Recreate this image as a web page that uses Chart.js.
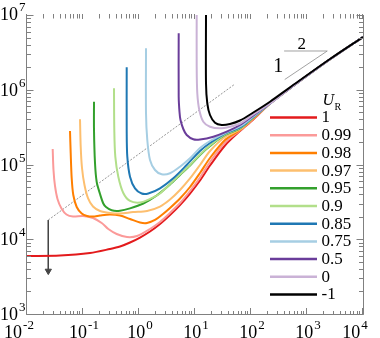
<!DOCTYPE html>
<html><head><meta charset="utf-8">
<script src="https://cdn.jsdelivr.net/npm/chart.js@4/dist/chart.umd.min.js"></script>
<style>html,body{margin:0;padding:0;background:#fff}</style>
</head><body>
<canvas id="c" width="380" height="338"></canvas>
<script>
// ---- data ----
const uRLabels = ['1','0.99','0.98','0.97','0.95','0.9','0.85','0.75','0.5','0','-1'];
const curveColors = ['#e31a1c','#fb9a99','#ff7f00','#fdbf6f','#33a02c','#b2df8a','#1f78b4','#a6cee3','#6a3d9a','#cab2d6','#000000'];

const x_1 = [0.01,0.0388,0.1334,0.303,0.458,0.691,1.042,1.572,2.371,3.578,5.397,8.142,12.28,18.53,34.34,63.62,109.9];
const y_1 = [5970,6060,6550,7410,8000,9050,10550,12700,16000,21100,28700,40900,61100,96900,179600,280700,400000];

const x_099 = [0.02876,0.02972,0.03162,0.03504,0.04131,0.05074,0.06628,0.1,0.1509,0.2158,0.283,0.3997,0.6105,0.921,1.572,2.371,3.578,5.397,8.142,12.28,18.53,34.34,63.62,109.9];
const y_099 = [1.612e5,8.44e4,5.16e4,3.46e4,2.58e4,2.14e4,2.015e4,2.05e4,1.924e4,1.65e4,1.372e4,1.176e4,1.072e4,1.105e4,1.372e4,1.701e4,2.25e4,3.05e4,4.42e4,6.70e4,1.08e5,1.97e5,2.85e5,4.062e5];

const x_098 = [0.0586,0.0603,0.0628,0.0671,0.0772,0.0948,0.1179,0.1509,0.2014,0.303,0.458,0.691,1.042,1.39,1.931,2.683,3.578,5.397,8.142,12.28,18.53,34.34,63.62,109.9];
const y_098 = [2.807e5,1.425e5,6.60e4,3.91e4,2.70e4,2.21e4,2.05e4,2.015e4,2.08e4,2.14e4,2.08e4,1.866e4,1.675e4,1.65e4,1.81e4,2.18e4,2.62e4,3.51e4,5.0e4,7.70e4,1.222e5,2.127e5,2.894e5,4.125e5];

const x_097 = [0.0884,0.091,0.096,0.1063,0.1228,0.1509,0.2014,0.303,0.458,0.7813,1.39,2.371,3.578,5.397,8.142,12.28,18.53,34.34,63.62,109.9];
const y_097 = [4.02e5,1.73e5,8.98e4,5.32e4,3.56e4,2.74e4,2.39e4,2.25e4,2.21e4,2.31e4,2.39e4,2.74e4,3.40e4,4.56e4,6.50e4,9.85e4,1.516e5,2.333e5,2.939e5,4.19e5];

const x_095 = [0.1572,0.1572,0.1638,0.1757,0.2014,0.2304,0.2575,0.3255,0.458,0.691,1.193,2.071,3.578,5.397,8.142,12.28,18.53,34.34,63.62,109.9];
const y_095 = [6.92e5,2.894e5,1.047e5,5.83e4,4.03e4,3.01e4,2.70e4,2.44e4,2.41e4,2.59e4,3.01e4,3.85e4,5.40e4,7.24e4,9.69e4,1.34e5,1.768e5,2.481e5,3.031e5,4.24e5];

const x_09 = [0.3578,0.3622,0.3774,0.4271,0.5243,0.691,1.042,1.572,2.371,3.578,5.397,8.142,12.28,18.53,34.34,63.62,109.9];
const y_09 = [1.046e6,2.894e5,1.272e5,6.87e4,4.16e4,3.25e4,3.10e4,3.46e4,4.09e4,5.48e4,7.35e4,9.85e4,1.36e5,1.796e5,2.519e5,3.078e5,4.28e5];

const x_085 = [0.6031,0.6031,0.6182,0.691,0.8483,1.117,1.466,2.371,4.098,7.108,12.28,18.53,34.34,63.62,109.9];
const y_085 = [1.997e6,2.894e5,1.272e5,6.87e4,4.80e4,4.09e4,4.09e4,4.80e4,6.54e4,9.85e4,1.516e5,1.939e5,2.598e5,3.126e5,4.32e5];

const x_075 = [1.334,1.334,1.406,1.572,1.931,2.543,3.578,5.397,8.142,12.28,18.53,34.34,63.62,109.9];
const y_075 = [3.585e6,4.84e5,2.127e5,1.149e5,8.44e4,7.39e4,7.63e4,9.35e4,1.21e5,1.662e5,2.063e5,2.639e5,3.224e5,4.387e5];

const x_05 = [5.116,5.116,5.287,5.51,6.182,7.108,9.325,12.28,21.23,36.83,63.62,109.9];
const y_05 = [5.69e6,8.07e5,5.04e5,3.94e5,2.985e5,2.481e5,2.174e5,2.16e5,2.354e5,2.747e5,3.376e5,4.525e5];

const x_0 = [10.72,10.72,10.99,11.93,14.07,18.53,27.95,42.17,63.62,109.9];
const y_0 = [1e7,2.034e6,8.965e5,5.36e5,3.738e5,3.204e5,3.05e5,3.204e5,3.536e5,4.67e5];

const x_m1 = [15.72,15.72,16.58,18.53,22.76,29.99,42.17,63.62,109.9,218.4,497.1,2575,10000];
const y_m1 = [1e7,1.22e6,6.59e5,4.595e5,3.624e5,3.376e5,3.482e5,3.878e5,4.963e5,6.92e5,1.078e6,2.579e6,5.08e6];

// common large-x branch (slope 1/2) shared by all U_R except -1
const tailX = [218.4,497.1,2575,10000];
const tailY = [6.55e5,1.049e6,2.555e6,5.08e6];

const xTickExps = [-2,-1,0,1,2,3,4];
const yTickExps = [3,4,5,6,7];

// guide line + arrow, slope triangle
const guideX = [0.024,51.8];
const guideY = [1.81e4,1.194e6];
const arrowX = [0.024,0.024];
const arrowY = [1.81e4,3760];
const slopeHypX = [400,2300];
const slopeHypY = [1.37e6,3.3e6];
const slopeTopX = [390,2300];
const slopeTopY = [3.3e6,3.3e6];
const slopeTextX = [307,803];
const slopeTextY = [2.03e6,3.97e6];
const slopeText = ['1','2'];

// ---- build datasets ----
const curveXs = [x_1,x_099,x_098,x_097,x_095,x_09,x_085,x_075,x_05,x_0,x_m1];
const curveYs = [y_1,y_099,y_098,y_097,y_095,y_09,y_085,y_075,y_05,y_0,y_m1];
const pts = (xs, ys) => xs.map((v, i) => ({x: v, y: ys[i]}));
const datasets = curveXs.map((xs, i) => {
  let X = xs, Y = curveYs[i];
  if (i < curveXs.length - 1) { X = xs.concat(tailX); Y = Y.concat(tailY); }
  return {
    label: uRLabels[i], data: pts(X, Y), isCurve: true,
    borderColor: curveColors[i], backgroundColor: curveColors[i],
    borderWidth: 2, pointRadius: 0, showLine: true, tension: 0.3,
    order: curveXs.length - 1 - i
  };
});
datasets.push({label: 'guide', data: pts(guideX, guideY), borderColor: '#7a7a7a', borderWidth: 0.8,
  borderDash: [2, 1.5], pointRadius: 0, showLine: true, tension: 0, order: 30});
datasets.push({label: 'arrow', data: pts(arrowX, arrowY), borderColor: '#444', backgroundColor: '#444',
  borderWidth: 1, pointRadius: [0, 3.6], pointStyle: 'triangle', rotation: 180, showLine: true, tension: 0, order: 30});
datasets.push({label: 'slope1', data: pts(slopeHypX, slopeHypY), borderColor: '#8a8a8a', borderWidth: 0.8,
  pointRadius: 0, showLine: true, tension: 0, order: 30});
datasets.push({label: 'slope2', data: pts(slopeTopX, slopeTopY), borderColor: '#8a8a8a', borderWidth: 0.8,
  pointRadius: 0, showLine: true, tension: 0, order: 30});

const SERIF = '"Liberation Serif", "Times New Roman", serif';
const AXC = '#808080';

function drawPow(ctx, exp, cx, baseY, align) {
  const e = String(exp);
  ctx.font = '18px ' + SERIF; const wb = ctx.measureText('10').width;
  ctx.font = '13px ' + SERIF; const we = ctx.measureText(e).width;
  const w = wb + 1 + we;
  let left = align === 'right' ? cx - w : cx - w / 2;
  ctx.fillStyle = '#000'; ctx.textAlign = 'left'; ctx.textBaseline = 'alphabetic';
  ctx.font = '18px ' + SERIF; ctx.fillText('10', left, baseY);
  ctx.font = '13px ' + SERIF; ctx.fillText(e, left + wb + 1, baseY - 9);
}

const framePlugin = {
  id: 'frame',
  afterDatasetsDraw(chart) {
    const {ctx, chartArea: a, scales} = chart;
    const sx = scales.x, sy = scales.y;
    const L = a.left - 0.5, R = a.right + 0.5, B = a.bottom + 0.5, T = a.top;
    ctx.save();
    ctx.strokeStyle = AXC; ctx.lineWidth = 1;
    ctx.beginPath();
    ctx.moveTo(L, T); ctx.lineTo(L, B); ctx.lineTo(R, B); ctx.lineTo(R, T);
    ctx.stroke();
    ctx.beginPath();
    // x ticks (bottom and top)
    for (let k = 0; k < xTickExps.length; k++) {
      const e = xTickExps[k];
      for (let m = 1; m <= 9; m++) {
        if (m > 1 && k === xTickExps.length - 1) break;
        const px = Math.round(sx.getPixelForValue(m * Math.pow(10, e))) - 0.5;
        const major = m === 1;
        ctx.moveTo(px, B); ctx.lineTo(px, B - (major ? 6.5 : 3.5));
        ctx.moveTo(px, T - 1); ctx.lineTo(px, T + (major ? 4 : 3.5));
      }
    }
    // y ticks (left and right)
    for (let k = 0; k < yTickExps.length; k++) {
      const e = yTickExps[k];
      for (let m = 1; m <= 9; m++) {
        if (m > 1 && k === yTickExps.length - 1) break;
        const py = Math.round(sy.getPixelForValue(m * Math.pow(10, e))) + 0.5;
        const major = m === 1;
        ctx.moveTo(L, py); ctx.lineTo(L + (major ? 7 : 4.5), py);
        ctx.moveTo(R, py); ctx.lineTo(R - (major ? 7 : 4.5), py);
      }
    }
    ctx.stroke();
    // tick labels
    xTickExps.forEach((e, k) => {
      let cx = sx.getPixelForValue(Math.pow(10, e)) + 1;
      if (k === 0 || k === xTickExps.length - 1) cx -= 9;
      drawPow(ctx, e, cx, 338, 'center');
    });
    yTickExps.forEach((e, k) => {
      const py = sy.getPixelForValue(Math.pow(10, e));
      drawPow(ctx, e, 25.5, py + (k === yTickExps.length - 1 ? 4.5 : 6), 'right');
    });
    // slope triangle texts
    ctx.fillStyle = '#000'; ctx.textAlign = 'center'; ctx.textBaseline = 'middle';
    slopeText.forEach((t, i) => {
      ctx.font = (i === 0 ? '20px ' : '17px ') + SERIF;
      ctx.fillText(t, sx.getPixelForValue(slopeTextX[i]), sy.getPixelForValue(slopeTextY[i]));
    });
    // legend
    const curves = chart.data.datasets.filter(d => d.isCurve);
    const lx0 = 270, lx1 = 317, tx = 321.5, y0 = 117.5, dy = 17.7;
    ctx.font = 'italic 16px ' + SERIF; ctx.textAlign = 'left'; ctx.textBaseline = 'alphabetic';
    ctx.fillText('U', 322.5, 105);
    ctx.font = '10px ' + SERIF; ctx.fillText('R', 334.5, 110);
    curves.forEach((d, i) => {
      const yy = y0 + i * dy;
      ctx.strokeStyle = d.borderColor; ctx.lineWidth = 2.5;
      ctx.beginPath(); ctx.moveTo(lx0, yy); ctx.lineTo(lx1, yy); ctx.stroke();
      ctx.fillStyle = '#000'; ctx.font = '17px ' + SERIF; ctx.textBaseline = 'middle';
      ctx.fillText(d.label, tx, yy + 0.5);
    });
    ctx.restore();
  }
};

new Chart(document.getElementById('c'), {
  type: 'scatter',
  data: {datasets},
  options: {
    responsive: false, animation: false, devicePixelRatio: 1,
    layout: {padding: {left: 27, right: 17, top: 15, bottom: 24}},
    plugins: {legend: {display: false}, tooltip: {enabled: false}},
    scales: {
      x: {type: 'logarithmic', min: 0.01, max: 1e4, display: false},
      y: {type: 'logarithmic', min: 1e3, max: 1e7, display: false}
    }
  },
  plugins: [framePlugin]
});
</script>
</body></html>
